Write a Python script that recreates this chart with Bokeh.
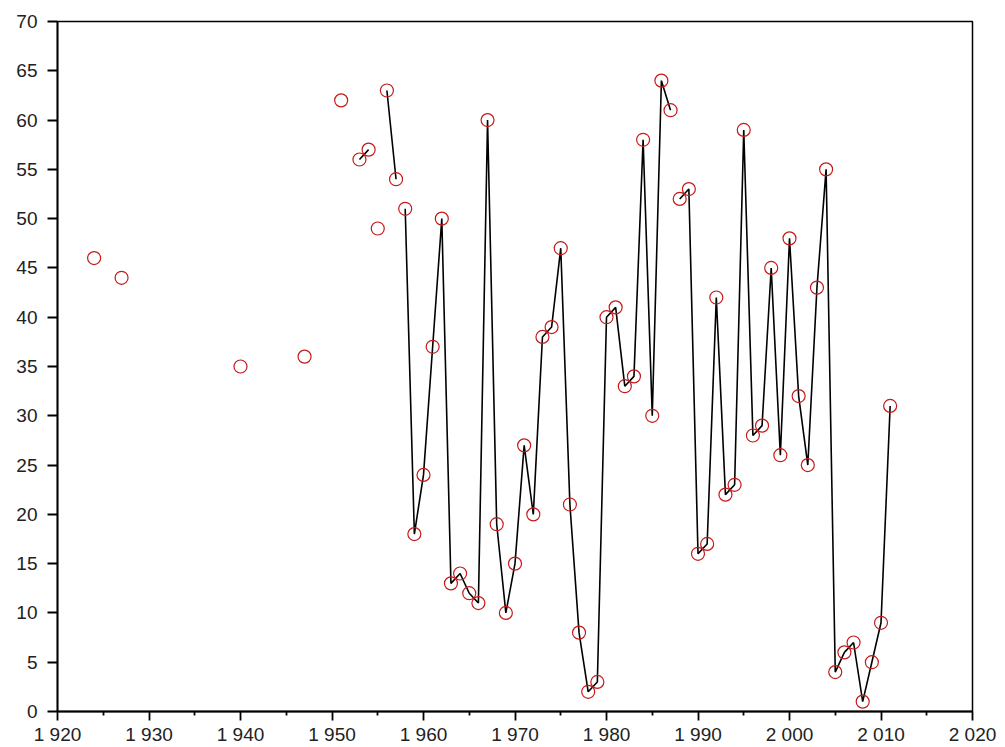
import math

from bokeh.plotting import figure
from bokeh.models import Range1d, FixedTicker, ColumnDataSource
from bokeh.embed import file_html
from bokeh.resources import INLINE

# Yearly observations
years = [1924, 1927, 1940, 1947, 1951, 1953, 1954, 1955, 1956, 1957,
         1958, 1959, 1960, 1961, 1962, 1963, 1964, 1965, 1966, 1967,
         1968, 1969, 1970, 1971, 1972, 1973, 1974, 1975, 1976, 1977,
         1978, 1979, 1980, 1981, 1982, 1983, 1984, 1985, 1986, 1987,
         1988, 1989, 1990, 1991, 1992, 1993, 1994, 1995, 1996, 1997,
         1998, 1999, 2000, 2001, 2002, 2003, 2004, 2005, 2006, 2007,
         2008, 2009, 2010, 2011]
values = [46, 44, 35, 36, 62, 56, 57, 49, 63, 54,
          51, 18, 24, 37, 50, 13, 14, 12, 11, 60,
          19, 10, 15, 27, 20, 38, 39, 47, 21, 8,
          2, 3, 40, 41, 33, 34, 58, 30, 64, 61,
          52, 53, 16, 17, 42, 22, 23, 59, 28, 29,
          45, 26, 48, 32, 25, 43, 55, 4, 6, 7,
          1, 5, 9, 31]

# The joining line is interrupted after these years even though the next year follows
line_breaks_after = [1954, 1955, 1957, 1987]

x_ticks = [1920, 1930, 1940, 1950, 1960, 1970, 1980, 1990, 2000, 2010, 2020]
x_tick_labels = ["1 920", "1 930", "1 940", "1 950", "1 960", "1 970",
                 "1 980", "1 990", "2 000", "2 010", "2 020"]
x_minor_ticks = [1925, 1935, 1945, 1955, 1965, 1975, 1985, 1995, 2005, 2015]
y_ticks = [0, 5, 10, 15, 20, 25, 30, 35, 40, 45, 50, 55, 60, 65, 70]

# Build the joining line: NaN separates runs of consecutive years
line_x, line_y = [], []
for i, (yr, v) in enumerate(zip(years, values)):
    if i > 0:
        prev = years[i - 1]
        if yr - prev > 1 or prev in line_breaks_after:
            line_x.append(math.nan)
            line_y.append(math.nan)
    line_x.append(yr)
    line_y.append(v)

points = ColumnDataSource(data=dict(x=years, y=values))
path = ColumnDataSource(data=dict(x=line_x, y=line_y))

p = figure(width=1005, height=747, output_backend="svg", toolbar_location=None,
           x_range=Range1d(1920, 2020), y_range=Range1d(0, 70),
           min_border_left=57, min_border_right=33,
           min_border_top=21, min_border_bottom=36)

p.background_fill_color = "white"
p.border_fill_color = "white"
p.outline_line_color = "black"
p.outline_line_width = 1.5
p.grid.visible = False

p.line("x", "y", source=path, line_color="black", line_width=1.6)
p.scatter("x", "y", source=points, marker="circle", size=13,
          fill_color=None, line_color="#c41a1a", line_width=1.2)

label_font = "Liberation Sans"

xa = p.xaxis[0]
xa.ticker = FixedTicker(ticks=x_ticks, minor_ticks=x_minor_ticks)
xa.major_label_overrides = {t: s for t, s in zip(x_ticks, x_tick_labels)}
xa.axis_line_width = 1.8
xa.axis_line_color = "black"
xa.major_tick_in = 0
xa.major_tick_out = 9
xa.major_tick_line_width = 1.8
xa.minor_tick_in = 0
xa.minor_tick_out = 4
xa.minor_tick_line_width = 1.8
xa.major_label_standoff = 3
xa.major_label_text_font = label_font
xa.major_label_text_font_size = "19px"
xa.major_label_text_color = "#222222"

ya = p.yaxis[0]
ya.ticker = FixedTicker(ticks=y_ticks, minor_ticks=[])
ya.axis_line_width = 1.8
ya.axis_line_color = "black"
ya.major_tick_in = 0
ya.major_tick_out = 10
ya.major_tick_line_width = 1.8
ya.minor_tick_out = 0
ya.major_label_standoff = 10
ya.major_label_text_font = label_font
ya.major_label_text_font_size = "19px"
ya.major_label_text_color = "#222222"

with open("out.html", "w") as f:
    f.write(file_html(p, INLINE))
